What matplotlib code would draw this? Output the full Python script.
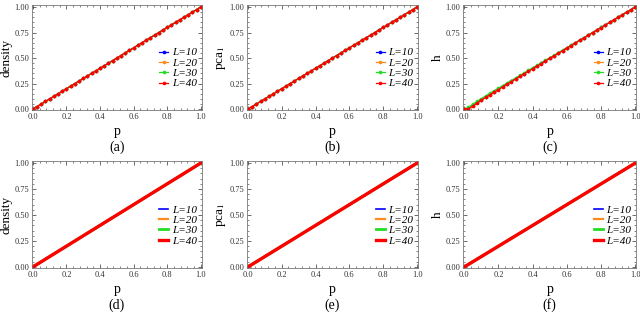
import matplotlib
matplotlib.use('Agg')
import matplotlib.pyplot as plt
from matplotlib.ticker import AutoMinorLocator

plt.rcParams['font.family'] = ['Liberation Serif', 'DejaVu Serif']
plt.rcParams['mathtext.fontset'] = 'stix'

# 数据
p = [0.000, 0.025, 0.050, 0.075, 0.100, 0.125, 0.150, 0.175, 0.200, 0.225,
     0.250, 0.275, 0.300, 0.325, 0.350, 0.375, 0.400, 0.425, 0.450, 0.475,
     0.500, 0.525, 0.550, 0.575, 0.600, 0.625, 0.650, 0.675, 0.700, 0.725,
     0.750, 0.775, 0.800, 0.825, 0.850, 0.875, 0.900, 0.925, 0.950, 0.975, 1.000]
density = [0.000, 0.025, 0.050, 0.075, 0.100, 0.125, 0.150, 0.175, 0.200, 0.225,
           0.250, 0.275, 0.300, 0.325, 0.350, 0.375, 0.400, 0.425, 0.450, 0.475,
           0.500, 0.525, 0.550, 0.575, 0.600, 0.625, 0.650, 0.675, 0.700, 0.725,
           0.750, 0.775, 0.800, 0.825, 0.850, 0.875, 0.900, 0.925, 0.950, 0.975, 1.000]
pca1 = density
# h 在小 p 时略有偏离
h_10 = [0.000, 0.008, 0.036, 0.065, 0.092, 0.119, 0.145, 0.171, 0.196, 0.222,
        0.247, 0.272, 0.298, 0.323, 0.348, 0.373, 0.398, 0.423, 0.448, 0.474,
        0.499, 0.524, 0.549, 0.574, 0.599, 0.624, 0.649, 0.674, 0.699, 0.724,
        0.749, 0.775, 0.800, 0.825, 0.850, 0.875, 0.900, 0.925, 0.950, 0.975, 1.000]
h_20 = [0.000, 0.006, 0.033, 0.062, 0.089, 0.116, 0.142, 0.168, 0.194, 0.220,
        0.245, 0.271, 0.296, 0.322, 0.347, 0.372, 0.397, 0.422, 0.447, 0.473,
        0.498, 0.523, 0.548, 0.573, 0.598, 0.623, 0.649, 0.674, 0.699, 0.724,
        0.749, 0.774, 0.799, 0.824, 0.850, 0.875, 0.900, 0.925, 0.950, 0.975, 1.000]
h_30 = [0.000, 0.018, 0.048, 0.076, 0.103, 0.129, 0.155, 0.180, 0.205, 0.230,
        0.255, 0.280, 0.305, 0.330, 0.355, 0.379, 0.404, 0.429, 0.453, 0.478,
        0.503, 0.527, 0.552, 0.577, 0.601, 0.626, 0.651, 0.676, 0.701, 0.725,
        0.750, 0.775, 0.800, 0.825, 0.850, 0.875, 0.900, 0.925, 0.950, 0.975, 1.000]
h_40 = [0.000, 0.004, 0.030, 0.059, 0.087, 0.114, 0.140, 0.166, 0.192, 0.218,
        0.244, 0.269, 0.295, 0.320, 0.346, 0.371, 0.396, 0.421, 0.446, 0.472,
        0.497, 0.522, 0.547, 0.572, 0.598, 0.623, 0.648, 0.673, 0.698, 0.723,
        0.749, 0.774, 0.799, 0.824, 0.849, 0.875, 0.900, 0.925, 0.950, 0.975, 1.000]

sizes = ['L=10', 'L=20', 'L=30', 'L=40']
colors = ['blue', '#ff8c1a', '#22dd22', 'red']
top_labels = ['density', 'pca$_1$', 'h']
captions = ['(a)', '(b)', '(c)', '(d)', '(e)', '(f)']
xticks = [0.0, 0.2, 0.4, 0.6, 0.8, 1.0]
yticks = [0.0, 0.25, 0.5, 0.75, 1.0]

top_series = [[density] * 4, [pca1] * 4, [h_10, h_20, h_30, h_40]]
bottom_series = [[density] * 4, [pca1] * 4, [density] * 4]

fig = plt.figure(figsize=(6.4, 3.12), dpi=100)
lefts = [0.050, 0.386, 0.724]
widths = [0.265, 0.267, 0.270]


def style_axes(ax, ylabel, cap, cap_y):
    ax.set_xlim(-0.005, 1.005)
    ax.set_ylim(-0.01, 1.02)
    ax.set_xticks(xticks)
    ax.set_yticks(yticks)
    ax.set_xticklabels(['%.1f' % v for v in xticks])
    ax.set_yticklabels(['%.2f' % v for v in yticks])
    ax.xaxis.set_minor_locator(AutoMinorLocator(5))
    ax.yaxis.set_minor_locator(AutoMinorLocator(5))
    ax.tick_params(which='both', direction='in', top=True, right=True,
                   labelsize=6, color='#555555', labelcolor='#333333', pad=2)
    ax.tick_params(which='major', length=3, width=0.6)
    ax.tick_params(which='minor', length=1.6, width=0.5)
    for s in ax.spines.values():
        s.set_color('#777777')
        s.set_linewidth(0.6)
    ax.set_xlabel('p', fontsize=10, labelpad=3)
    ax.set_ylabel(ylabel, fontsize=9.5, labelpad=1)
    ax.text(0.5, cap_y, cap, transform=ax.transAxes, ha='center', va='center',
            fontsize=10)
    leg = ax.legend(loc='center right', bbox_to_anchor=(1.01, 0.4), frameon=False,
                    fontsize=8, handlelength=0.8, handletextpad=0.3,
                    labelspacing=0.05, borderaxespad=0.2)
    for t in leg.get_texts():
        t.set_fontstyle('italic')


for i in range(3):
    ax = fig.add_axes([lefts[i], 0.647, widths[i], 0.337])
    for k in range(4):
        ax.plot(p, top_series[i][k], color=colors[k], lw=0.9, marker='o',
                ms=1.6, label=sizes[k])
    style_axes(ax, top_labels[i], captions[i], -0.35)

for i in range(3):
    ax = fig.add_axes([lefts[i], 0.141, widths[i], 0.343])
    for k in range(4):
        ax.plot(p, bottom_series[i][k], color=colors[k], lw=1.2 + 0.4 * k,
                label=sizes[k])
    style_axes(ax, top_labels[i], captions[i + 3], -0.345)

fig.savefig('out.png', dpi=100)
